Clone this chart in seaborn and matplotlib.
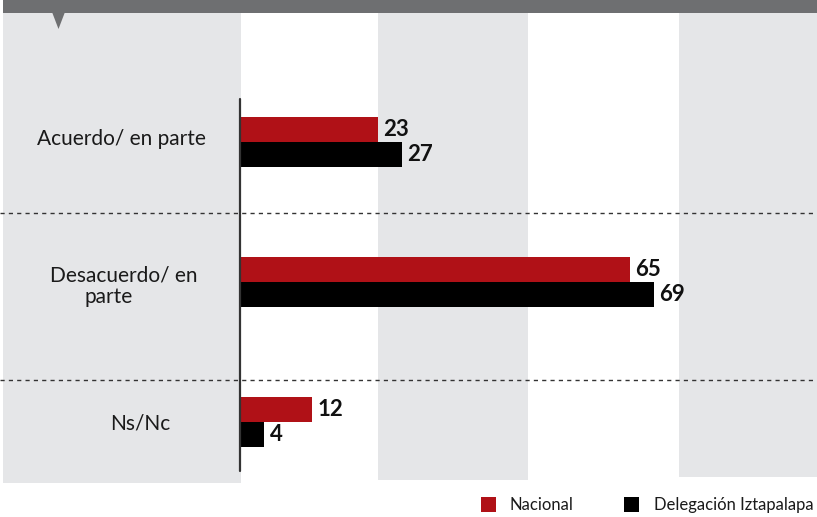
import seaborn as sns
import pandas as pd
import matplotlib.pyplot as plt
from matplotlib.patches import Rectangle, Polygon

categories = ['Acuerdo/ en parte', 'Desacuerdo/ en parte', 'Ns/Nc']
series = ['Nacional', 'Delegación Iztapalapa']
nacional = [23, 65, 12]
iztapalapa = [27, 69, 4]
colors = ['#b01117', '#000000']

df = pd.DataFrame({
    'respuesta': categories * 2,
    'serie': [series[0]] * 3 + [series[1]] * 3,
    'valor': nacional + iztapalapa,
})

sns.set_theme(style='white')
plt.rcParams['font.family'] = ['Lato', 'DejaVu Sans']

W, H = 817, 517
fig = plt.figure(figsize=(W / 100, H / 100), dpi=100)
ax = fig.add_axes([0, 0, 1, 1])


# pixel -> data (0 at x=240px, 6px per unit; categories 140px apart)
def px(x, y):
    return (x - 240) / 6, (y - 142) / 140


sns.barplot(data=df, x='valor', y='respuesta', hue='serie', hue_order=series,
            palette=colors, orient='h', width=0.357, saturation=1,
            linewidth=0, edgecolor='none', legend=False, ax=ax, zorder=3)

x0, y0 = px(0, 0)
x1, y1 = px(W, H)
ax.set_xlim(x0, x1)
ax.set_ylim(y1, y0)
ax.axis('off')

gray = '#e5e6e8'


def box(xs, ys, xe, ye, **kw):
    a, b = px(xs, ys)
    c, d = px(xe, ye)
    ax.add_patch(Rectangle((a, b), c - a, d - b, lw=0, **kw))


# left label panel
box(3, 13, 241, 483, color=gray, zorder=0)
# vertical bands
box(378, 13, 528, 480, color=gray, zorder=0)
box(679, 13, 817, 477, color=gray, zorder=0)
# top band + pointer
box(3, 0, 817, 13, color='#6e6f71', zorder=1)
ax.add_patch(Polygon([px(52, 12), px(65, 12), px(58.5, 29)], color='#6e6f71',
                     zorder=1, lw=0))

# dashed separators
for yy in [213, 380]:
    a, b = px(0, yy)
    c, _ = px(W, yy)
    ax.plot([a, c], [b, b], ls=(0, (3, 3)), color='#333333', lw=1, zorder=2)

# axis line
a, b = px(240, 99)
_, d = px(240, 471)
ax.plot([0, 0], [b, d], color='#333333', lw=1.6, zorder=4)

# category labels
for (tx, ty), txt in [((121, 139), 'Acuerdo/ en parte'),
                      ((124, 276), 'Desacuerdo/ en'),
                      ((109, 297), 'parte'),
                      ((140, 424), 'Ns/Nc')]:
    ax.text(*px(tx, ty), txt, ha='center', va='center', fontsize=15,
            color='#1a1a1a', zorder=5)

# value labels
for cont in ax.containers:
    ax.bar_label(cont, padding=4, fontsize=16, fontweight='bold',
                 color='#111111')

# legend
for (sx, tx), name, col in zip([(481, 510), (624, 654)], series, colors):
    box(sx, 497, sx + 15, 512, color=col, zorder=5)
    ax.text(*px(tx, 505), name, ha='left', va='center', fontsize=12,
            color='#1a1a1a')

fig.savefig('out.png', dpi=100)
